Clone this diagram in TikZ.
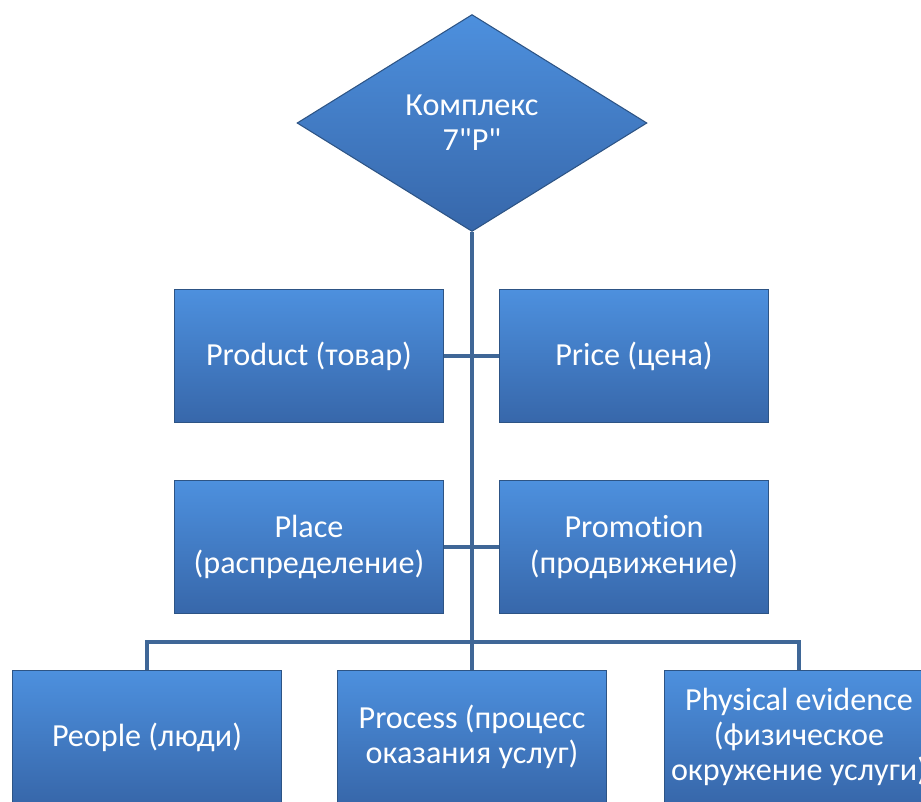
\documentclass[tikz,border=0pt]{standalone}
\usepackage{fontspec}
\setmainfont{Carlito}[Ligatures={TeXOff,NoCommon}]
\usetikzlibrary{shapes.geometric}
\definecolor{boxtop}{HTML}{4D90DE}
\definecolor{boxbot}{HTML}{3767AA}
\definecolor{boxedge}{HTML}{2D5485}
\definecolor{linkblue}{HTML}{3F6797}
\begin{document}
\begin{tikzpicture}[x=0.02cm, y=-0.02cm,
        boxnode/.style={rectangle, draw=boxedge, line width=0.6pt, top color=boxtop, bottom color=boxbot,
            minimum width=5.38cm, minimum height=2.66cm, inner sep=2pt,
            text=white, align=center, font=\fontsize{18.3}{20}\selectfont},
        topnode/.style={diamond, draw=boxedge, line width=0.6pt, top color=boxtop, bottom color=boxbot,
            minimum width=7cm, minimum height=4.34cm, inner sep=0pt, aspect=1.61,
            text=white, align=center, font=\fontsize{18.3}{20}\selectfont},
        link/.style={draw=linkblue, line width=2.6pt}]
        \clip (0,0) rectangle (921,802);

        % Top of the tree
        \node[topnode] (mix) at (472,123) {Комплекс\\7"P"};

        % Links (drawn first, boxes cover the ends)
        \coordinate (bus) at (472,642);
        \draw[link] (mix.south) -- (bus);

        % Row 1
        \node[boxnode] (product) at (309,356) {Product (товар)};
        \node[boxnode] (price) at (634,356) {Price (цена)};
        \draw[link] (product.east) -- (price.west);

        % Row 2
        \node[boxnode] (place) at (309,547) {Place\\(распределение)};
        \node[boxnode] (promo) at (634,547) {Promotion\\(продвижение)};
        \draw[link] (place.east) -- (promo.west);

        % Row 3
        \node[boxnode] (people) at (147,737) {People (люди)};
        \node[boxnode] (process) at (472,737) {Process (процесс\\оказания услуг)};
        \node[boxnode] (physical) at (799,737) {Physical evidence\\(физическое\\окружение услуги)};
        \draw[link] (people.north) |- (bus) -| (physical.north);
        \draw[link] (bus) -- (process.north);
\end{tikzpicture}
\end{document}
